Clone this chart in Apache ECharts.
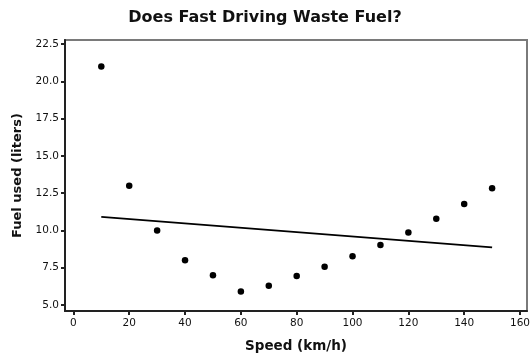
<!DOCTYPE html>
<html>
<head>
<meta charset="utf-8">
<script src="https://cdn.jsdelivr.net/npm/echarts@6/dist/echarts.min.js"></script>
<style>html,body{margin:0;padding:0;background:#fff}#c{width:530px;height:354px}</style>
</head>
<body>
<div id="c"></div>
<script>
var speeds = [10, 20, 30, 40, 50, 60, 70, 80, 90, 100, 110, 120, 130, 140, 150];
var fuel = [21.00, 13.00, 10.00, 8.00, 7.00, 5.90, 6.30, 6.95, 7.57, 8.27, 9.03, 9.87, 10.79, 11.77, 12.83];
var fitX = [10, 150];
var fitY = [10.91, 8.86];
var xTicks = [0, 20, 40, 60, 80, 100, 120, 140, 160];
var yTicks = [5.0, 7.5, 10.0, 12.5, 15.0, 17.5, 20.0, 22.5];

var chart = echarts.init(document.getElementById('c'), null, {renderer: 'canvas'});
var font = 'DejaVu Sans';
chart.setOption({
  animation: false,
  backgroundColor: '#fff',
  title: {
    text: 'Does Fast Driving Waste Fuel?',
    left: 'center', top: 5,
    textStyle: {fontFamily: font, fontSize: 16, fontWeight: 'bold', color: '#111'}
  },
  grid: {left: 65, right: 3, top: 40, bottom: 43, outerBoundsMode: 'none', containLabel: false,
    show: true, borderColor: '#7a7a7a', borderWidth: 2, backgroundColor: '#fff'},
  xAxis: {
    type: 'value', min: -3, max: 162.5,
    name: 'Speed (km/h)', nameLocation: 'middle', nameGap: 28,
    nameTextStyle: {fontFamily: font, fontSize: 13.5, fontWeight: 'bold', color: '#111'},
    axisLine: {show: true, onZero: false, lineStyle: {color: '#222', width: 2}},
    axisTick: {show: true, customValues: xTicks, length: 4, lineStyle: {color: '#222', width: 2}},
    axisLabel: {customValues: xTicks, margin: 7, fontFamily: font, fontSize: 10.5, color: '#111',
      formatter: function (v) { return String(v); }},
    splitLine: {show: false}
  },
  yAxis: {
    type: 'value', min: 4.6, max: 22.77,
    name: 'Fuel used (liters)', nameLocation: 'middle', nameGap: 41, nameRotate: 90,
    nameTextStyle: {fontFamily: font, fontSize: 13, fontWeight: 'bold', color: '#111'},
    axisLine: {show: true, onZero: false, lineStyle: {color: '#222', width: 2}},
    axisTick: {show: true, customValues: yTicks, length: 4, lineStyle: {color: '#222', width: 2}},
    axisLabel: {customValues: yTicks, margin: 6, fontFamily: font, fontSize: 10.5, color: '#111',
      formatter: function (v) { return v.toFixed(1); }},
    splitLine: {show: false}
  },
  series: [
    {
      type: 'line',
      data: fitX.map(function (x, i) { return [x, fitY[i]]; }),
      showSymbol: false, symbol: 'none',
      lineStyle: {color: '#000', width: 1.8},
      z: 2
    },
    {
      type: 'scatter',
      data: speeds.map(function (x, i) { return [x, fuel[i]]; }),
      symbol: 'circle', symbolSize: 6.5,
      itemStyle: {color: '#000', opacity: 1},
      z: 3
    }
  ]
});
</script>
</body>
</html>
